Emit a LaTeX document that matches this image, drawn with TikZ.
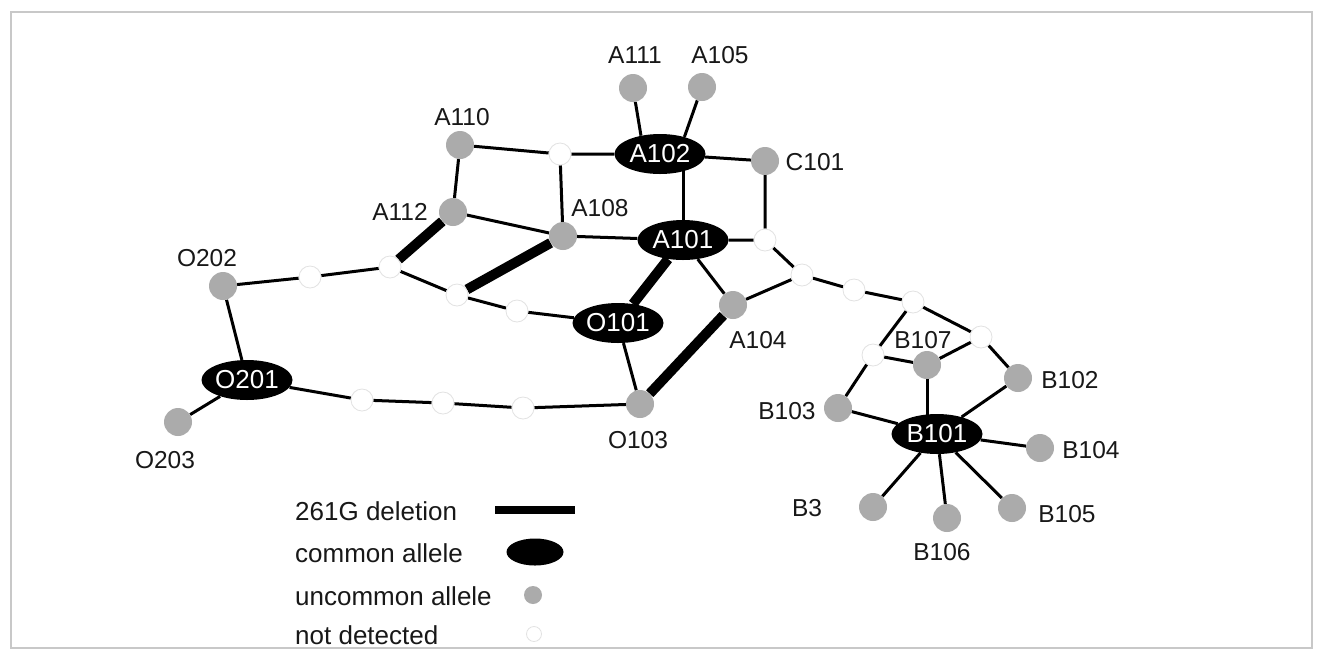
\documentclass[tikz,border=0pt]{standalone}
\usepackage{fontspec}
\setmainfont{Liberation Sans}
\usetikzlibrary{shapes.geometric,backgrounds}
\definecolor{allelegray}{HTML}{ABABAB}
\definecolor{labelcol}{HTML}{181818}
\definecolor{framecol}{HTML}{C8C8C8}
\definecolor{emptyedge}{HTML}{E2E2E2}
\newcommand{\labelfont}{\fontsize{24.5}{24.5}\selectfont}
\newcommand{\ellipsefont}{\fontsize{26}{26}\selectfont}
\newcommand{\legendfont}{\fontsize{26}{26}\selectfont}
\tikzset{
  common/.style={ellipse, fill=black, minimum width=91pt, minimum height=40pt,
    inner sep=0pt, text=white, font=\ellipsefont},
  uncommon/.style={circle, fill=allelegray, minimum size=28pt, inner sep=0pt},
  missing/.style={circle, fill=white, draw=emptyedge, line width=0.8pt,
    minimum size=22pt, inner sep=0pt},
  link/.style={line width=3pt, black},
  del/.style={line width=10pt, black},
  lbl/.style={font=\labelfont, text=labelcol, inner sep=0pt},
  leg/.style={font=\legendfont, text=labelcol, inner sep=0pt, anchor=west},
}
\begin{document}
\begin{tikzpicture}[x=1pt, y=-1pt]
\useasboundingbox (0,0) rectangle (1317,657);
\begin{scope}[on background layer]
  \fill[white] (0,0) rectangle (1317,657);
  \draw[framecol, line width=2.5pt] (11,12) rectangle (1312,648);
\end{scope}

% common alleles
\node[common] (A102) at (660,154) {A102};
\node[common] (A101) at (683,240) {A101};
\node[common] (O101) at (618,323) {O101};
\node[common] (O201) at (247,380) {O201};
\node[common] (B101) at (937,434) {B101};

% uncommon alleles
\node[uncommon] (A111) at (633,88) {};
\node[uncommon] (A105) at (702,87) {};
\node[uncommon] (A110) at (460,145) {};
\node[uncommon] (C101) at (765,161) {};
\node[uncommon] (A112) at (453,212) {};
\node[uncommon] (A108) at (563,236) {};
\node[uncommon] (A104) at (733,305) {};
\node[uncommon] (O202) at (223,286) {};
\node[uncommon] (O203) at (178,422) {};
\node[uncommon] (O103) at (640,404) {};
\node[uncommon] (B107) at (927,365) {};
\node[uncommon] (B102) at (1018,378) {};
\node[uncommon] (B103) at (838,408) {};
\node[uncommon] (B104) at (1040,448) {};
\node[uncommon] (B3)   at (873,507) {};
\node[uncommon] (B106) at (947,518) {};
\node[uncommon] (B105) at (1012,508) {};

% alleles not detected
\node[missing] (n1)  at (560,154) {};
\node[missing] (n2)  at (765,240) {};
\node[missing] (n3)  at (802,275) {};
\node[missing] (n4)  at (854,290) {};
\node[missing] (n5)  at (913,302) {};
\node[missing] (n6)  at (981,337) {};
\node[missing] (n7)  at (873,355) {};
\node[missing] (n8)  at (390,267) {};
\node[missing] (n9)  at (310,277) {};
\node[missing] (n10) at (457,295) {};
\node[missing] (n11) at (517,311) {};
\node[missing] (n12) at (362,400) {};
\node[missing] (n13) at (443,403) {};
\node[missing] (n14) at (523,408) {};

% labels
\node[lbl] (lA111) at (635,55)  {A111};
\node[lbl] (lA105) at (720,55)  {A105};
\node[lbl] (lA110) at (462,117) {A110};
\node[lbl] (lC101) at (815,162) {C101};
\node[lbl] (lA112) at (400,212) {A112};
\node[lbl] (lA108) at (600,208) {A108};
\node[lbl] (lA104) at (758,340) {A104};
\node[lbl] (lO202) at (207,258) {O202};
\node[lbl] (lO203) at (165,460) {O203};
\node[lbl] (lO103) at (638,440) {O103};
\node[lbl] (lB107) at (923,340) {B107};
\node[lbl] (lB102) at (1070,380) {B102};
\node[lbl] (lB103) at (787,411) {B103};
\node[lbl] (lB104) at (1091,450) {B104};
\node[lbl] (lB3)   at (807,508) {B3};
\node[lbl] (lB106) at (942,552) {B106};
\node[lbl] (lB105) at (1067,514) {B105};

% connectors
\begin{scope}[on background layer]
  \draw[link] (A111) -- (A102.136);
  \draw[link] (A105) -- (A102.35);
  \draw[link] (A110) -- (n1) -- (A102) -- (C101);
  \draw[link] (A101.north) -- (A101.north |- A102.center);
  \draw[link] (n1) -- (A108);
  \draw[link] (A110) -- (A112) -- (A108) -- (A101) -- (n2);
  \draw[link] (C101) -- (n2) -- (n3) -- (A104) -- (A101);
  \draw[del]  (A101) -- (O101);
  \draw[del]  (A104) -- (O103);
  \draw[link] (O101) -- (O103);
  \draw[del]  (A112) -- (n8);
  \draw[del]  (A108) -- (n10);
  \draw[link] (n8) -- (n10) -- (n11) -- (O101);
  \draw[link] (n8) -- (n9) -- (O202) -- (O201) -- (O203);
  \draw[link] (O201) -- (n12) -- (n13) -- (n14) -- (O103);
  \draw[link] (n3) -- (n4) -- (n5) -- (n7) -- (B107) -- (n6) -- (n5);
  \draw[link] (n7) -- (B103) -- (B101);
  \draw[link] (n6) -- (B102) -- (B101);
  \draw[link] (B107) -- (B107 |- B101.center);
  \draw[link] (B101) -- (B104);
  \draw[link] (B101) -- (B105);
  \draw[link] (B101) -- (B106);
  \draw[link] (B101) -- (B3);
\end{scope}

% legend
\node[leg] (t1) at (295,511) {261G deletion};
\node[leg] (t2) at (295,553) {common allele};
\node[leg] (t3) at (295,596) {uncommon allele};
\node[leg] (t4) at (295,635) {not detected};
\coordinate (d1) at (495,510);
\coordinate (d2) at (575,510);
\draw[line width=8pt, black] (d1) -- (d2);
\node[ellipse, fill=black, minimum width=57pt, minimum height=27pt, inner sep=0pt] (kc) at (535,552) {};
\node[circle, fill=allelegray, minimum size=18pt, inner sep=0pt] (ku) at (533,595) {};
\node[missing, minimum size=15pt] (kn) at (534,634) {};
\end{tikzpicture}
\end{document}
